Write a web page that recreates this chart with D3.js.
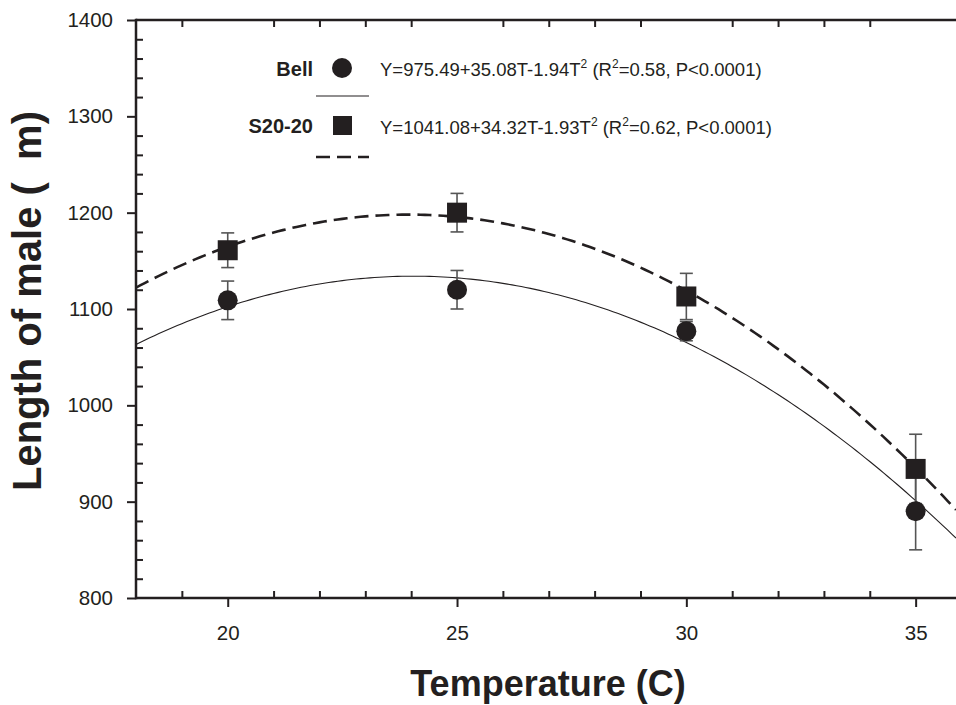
<!DOCTYPE html>
<html><head><meta charset="utf-8">
<script src="https://cdn.jsdelivr.net/npm/d3@7"></script>
<style>body{margin:0;background:#fff}svg{display:block}text{font-family:"Liberation Sans",Arial,sans-serif;fill:#231f20}</style>
</head><body>
<script>
const temps = [20, 25, 30, 35];
const bellMean = [1109, 1120, 1077, 890];
const bellErr = [20, 20, 10, 40];
const s2020Mean = [1161, 1200, 1113, 934];
const s2020Err = [18, 20, 24, 36];
// regression labels as printed
const bellLabel = ["Y=975.49+35.08T-1.94T", "=0.58, P<0.0001)"];
const s2020Label = ["Y=1041.08+34.32T-1.93T", "=0.62, P<0.0001)"];
// quadratic coefficients of the drawn fit curves, in t = T - 15
const bellCurve = [975.49, 35.08, -1.94];
const s2020Curve = [1026.2, 38.44, -2.15];
const tOffset = 15;
const xMajor = [20, 25, 30, 35];
const yMajor = [800, 900, 1000, 1100, 1200, 1300, 1400];

const W = 956, H = 705;
const svg = d3.select("body").append("svg").attr("width", W).attr("height", H);
const x = d3.scaleLinear().domain([18, 35.88]).range([136, 956]);
const y = d3.scaleLinear().domain([800, 1400]).range([598, 20]);
const ink = "#231f20";

function curvePts(c) {
  return d3.range(18, 35.9, 0.1).concat([35.88]).map(T => { const t = T - tOffset; return [T, c[0] + c[1]*t + c[2]*t*t]; });
}
const line = d3.line().x(d => x(d[0])).y(d => y(d[1]));
svg.append("clipPath").attr("id","c").append("rect").attr("x",136).attr("y",20).attr("width",820).attr("height",578);
svg.append("path").attr("d", line(curvePts(bellCurve))).attr("fill","none").attr("stroke",ink).attr("stroke-width",1.1).attr("clip-path","url(#c)");
svg.append("path").attr("d", line(curvePts(s2020Curve))).attr("fill","none").attr("stroke",ink).attr("stroke-width",2.6).attr("stroke-dasharray","14,7").attr("clip-path","url(#c)");

function errBars(means, errs) {
  const g = svg.append("g").attr("stroke","#555").attr("stroke-width",1.6);
  temps.forEach((T,i) => {
    const cx = x(T), y1 = y(means[i]+errs[i]), y2 = y(means[i]-errs[i]);
    g.append("line").attr("x1",cx).attr("x2",cx).attr("y1",y1).attr("y2",y2);
    g.append("line").attr("x1",cx-6.5).attr("x2",cx+6.5).attr("y1",y1).attr("y2",y1);
    g.append("line").attr("x1",cx-6.5).attr("x2",cx+6.5).attr("y1",y2).attr("y2",y2);
  });
}
errBars(bellMean, bellErr);
errBars(s2020Mean, s2020Err);
svg.append("g").selectAll("circle").data(temps).join("circle")
  .attr("cx", d => x(d)).attr("cy", (d,i) => y(bellMean[i])).attr("r", 10).attr("fill", ink);
svg.append("g").selectAll("rect").data(temps).join("rect")
  .attr("x", d => x(d)-10).attr("y", (d,i) => y(s2020Mean[i])-10).attr("width", 20).attr("height", 20).attr("fill", ink);

// axes
const minorX = d3.range(19, 36, 1).filter(v => !xMajor.includes(v));
const minorY = d3.range(800, 1401, 20).filter(v => !yMajor.includes(v));
const axG = svg.append("g").attr("stroke", ink).attr("stroke-width",2.5);
axG.append("line").attr("x1",136).attr("x2",956).attr("y1",598).attr("y2",598);
axG.append("line").attr("x1",136).attr("x2",956).attr("y1",20).attr("y2",20);
axG.append("line").attr("x1",136).attr("x2",136).attr("y1",18.8).attr("y2",599.2);

const xb = svg.append("g").attr("transform","translate(0,598)")
  .call(d3.axisBottom(x).tickValues(xMajor).tickSize(9).tickPadding(18).tickFormat(d3.format("d")));
const xbm = svg.append("g").attr("transform","translate(0,598)")
  .call(d3.axisBottom(x).tickValues(minorX).tickSize(-7).tickFormat(""));
const xtm = svg.append("g").attr("transform","translate(0,20)")
  .call(d3.axisTop(x).tickValues(minorX).tickSize(-7).tickFormat(""));
const yl = svg.append("g").attr("transform","translate(136,0)")
  .call(d3.axisLeft(y).tickValues(yMajor).tickSize(9).tickPadding(14).tickFormat(d3.format("d")));
const ylm = svg.append("g").attr("transform","translate(136,0)")
  .call(d3.axisLeft(y).tickValues(minorY).tickSize(-7).tickFormat(""));
[xb,xbm,xtm,yl,ylm].forEach(g => {
  g.select(".domain").remove();
  g.selectAll(".tick line").attr("stroke", ink).attr("stroke-width", 2);
  g.selectAll("text").attr("font-size", 20.5).attr("fill", ink).attr("font-family", '"Liberation Sans",Arial,sans-serif');
});

// titles
svg.append("text").attr("x", 548).attr("y", 696).attr("text-anchor","middle")
  .attr("font-size", 36).attr("font-weight","bold").text("Temperature (C)");
svg.append("text").attr("transform","translate(41,301) rotate(-90)").attr("text-anchor","middle")
  .attr("font-size", 40).attr("font-weight","bold").text("Length of male (\u00a0\u00a0m)");

// legend
const lg = svg.append("g");
function eq(yPos, parts) {
  const e = lg.append("text").attr("x", 380).attr("y", yPos).attr("font-size", 18.5);
  e.append("tspan").text(parts[0]);
  e.append("tspan").attr("dy",-8).attr("font-size",12).text("2");
  e.append("tspan").attr("dy",8).text(" (R");
  e.append("tspan").attr("dy",-8).attr("font-size",12).text("2");
  e.append("tspan").attr("dy",8).text(parts[1]);
}
lg.append("text").attr("x", 313).attr("y", 76).attr("text-anchor","end").attr("font-size",20).attr("font-weight","bold").text("Bell");
lg.append("circle").attr("cx", 342).attr("cy", 68).attr("r", 10).attr("fill", ink);
eq(76, bellLabel);
lg.append("line").attr("x1",316).attr("x2",369).attr("y1",96).attr("y2",96).attr("stroke",ink).attr("stroke-width",1.1);
lg.append("text").attr("x", 313).attr("y", 133).attr("text-anchor","end").attr("font-size",20).attr("font-weight","bold").text("S20-20");
lg.append("rect").attr("x", 333).attr("y", 116).attr("width", 19).attr("height", 19).attr("fill", ink);
eq(134, s2020Label);
lg.append("line").attr("x1",316).attr("x2",369).attr("y1",157).attr("y2",157).attr("stroke",ink).attr("stroke-width",2.6).attr("stroke-dasharray","14,7");
</script>
</body></html>
